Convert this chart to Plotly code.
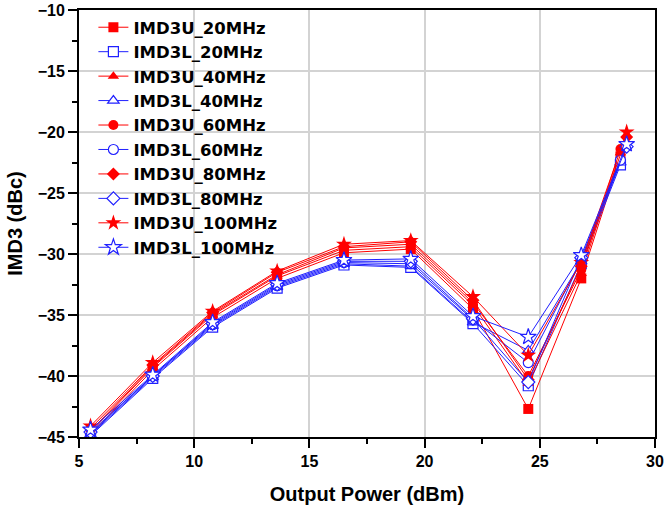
import plotly.graph_objects as go

x_main = [5.5, 8.2, 10.8, 13.6, 16.5, 19.4, 22.1, 24.5, 26.8]
x_last_a = 28.5
x_last_b = 28.77

names = ["IMD3U_20MHz", "IMD3L_20MHz", "IMD3U_40MHz", "IMD3L_40MHz",
         "IMD3U_60MHz", "IMD3L_60MHz", "IMD3U_80MHz", "IMD3L_80MHz",
         "IMD3U_100MHz", "IMD3L_100MHz"]

U20 = [-44.8, -39.5, -35.2, -32.0, -29.9, -29.6, -34.5, -42.7, -32.0, -22.0]
L20 = [-44.9, -40.2, -36.0, -32.8, -30.9, -31.1, -35.7, -40.8, -30.8, -22.7]
U40 = [-44.6, -39.3, -35.0, -31.8, -29.7, -29.4, -34.2, -40.6, -31.6, -21.7]
L40 = [-44.8, -40.1, -35.9, -32.7, -30.8, -31.0, -35.6, -37.9, -30.6, -22.5]
U60 = [-44.5, -39.2, -34.9, -31.7, -29.5, -29.2, -34.0, -40.0, -31.3, -21.4]
L60 = [-44.7, -40.0, -35.8, -32.6, -30.7, -30.8, -35.4, -38.9, -30.5, -22.3]
U80 = [-44.3, -39.1, -34.8, -31.5, -29.4, -29.0, -33.8, -40.3, -31.0, -20.4]
L80 = [-44.6, -40.0, -35.7, -32.5, -30.6, -30.6, -35.3, -40.5, -30.3, -21.2]
U100 = [-44.1, -38.9, -34.7, -31.4, -29.2, -28.9, -33.5, -38.3, -30.7, -20.0]
L100 = [-44.4, -39.9, -35.6, -32.4, -30.5, -30.4, -35.1, -36.8, -30.1, -21.0]

series = [U20, L20, U40, L40, U60, L60, U80, L80, U100, L100]
last_x = [x_last_a, x_last_a, x_last_a, x_last_a, x_last_a, x_last_a,
          x_last_b, x_last_b, x_last_b, x_last_b]
symbols = ["square", "square", "triangle-up", "triangle-up", "circle", "circle",
           "diamond", "diamond", "star", "star"]

RED = "#FF0000"
BLUE = "#2020FF"

fig = go.Figure()
for i, (nm, ys) in enumerate(zip(names, series)):
    upper = (i % 2 == 0)
    col = RED if upper else BLUE
    xs = x_main + [last_x[i]]
    size = 12 if symbols[i] == "star" else 10
    if upper:
        mk = dict(symbol=symbols[i], size=size, color=col, line=dict(width=0))
    else:
        mk = dict(symbol=symbols[i], size=size, color="white", line=dict(color=col, width=1.2))
    fig.add_trace(go.Scatter(
        x=xs, y=ys, name=nm, mode="lines+markers",
        line=dict(color=col, width=1),
        marker=mk,
    ))

axis_common = dict(
    showline=True, linecolor="black", linewidth=2, mirror=True,
    ticks="outside", ticklen=9, tickwidth=2, tickcolor="black",
    showgrid=True, gridcolor="#D3D3D3", gridwidth=1.5,
    zeroline=False, automargin=False,
    tickfont=dict(family="Arial", size=16, color="black", weight="bold"),
)

fig.update_xaxes(range=[5, 30], dtick=5, tick0=5,
                 minor=dict(dtick=2.5, ticklen=5, tickwidth=2, tickcolor="black", ticks="outside", showgrid=False),
                 title=dict(text="<b>Output Power (dBm)</b>", font=dict(family="Arial", size=20, color="black"), standoff=18),
                 **axis_common)
fig.update_yaxes(range=[-45, -10], dtick=5, tick0=-45,
                 minor=dict(dtick=2.5, ticklen=5, tickwidth=2, tickcolor="black", ticks="outside", showgrid=False),
                 title=dict(text="<b>IMD3 (dBc)</b>", font=dict(family="Arial", size=20, color="black"), standoff=10),
                 **axis_common)

fig.update_layout(
    width=668, height=506,
    margin=dict(l=79, r=13, t=10, b=69),
    paper_bgcolor="white", plot_bgcolor="white",
    legend=dict(x=0.025, y=1.0, xanchor="left", yanchor="top",
                bgcolor="rgba(0,0,0,0)", borderwidth=0, maxheight=1,
                font=dict(family="DejaVu Sans", size=16.5, color="black", weight="bold"),
                tracegroupgap=0, itemwidth=30),
    showlegend=True,
)

fig.write_html("out.html")
